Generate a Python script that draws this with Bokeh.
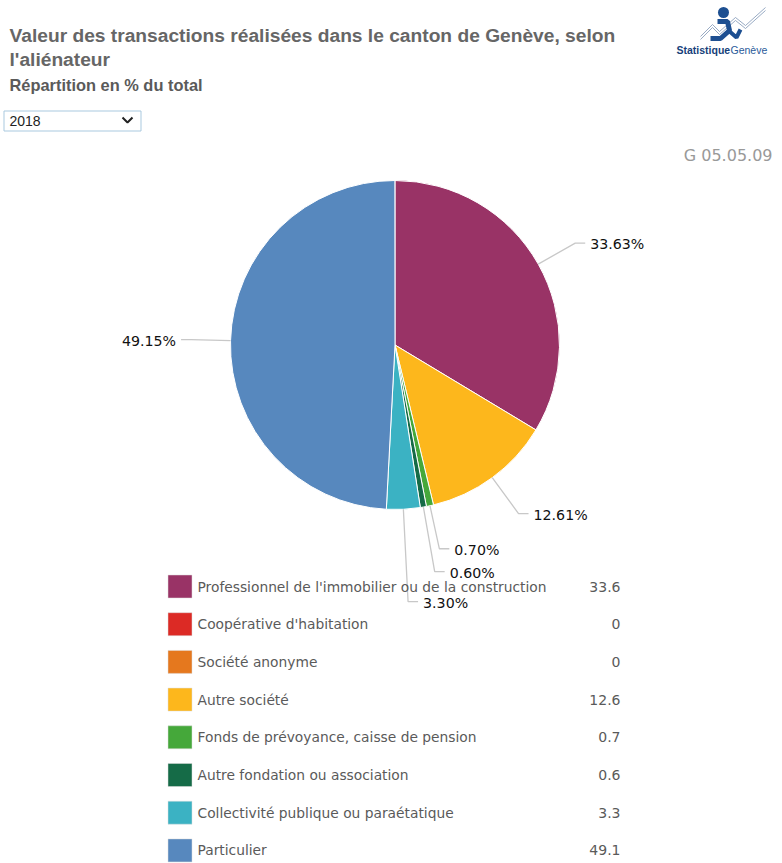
import numpy as np
from bokeh.plotting import figure
from bokeh.models import Range1d, ColumnDataSource
from bokeh.core.properties import value
from bokeh.embed import file_html
from bokeh.resources import INLINE

# ---------------- data ----------------
categories = [
    "Professionnel de l'immobilier ou de la construction",
    "Coopérative d'habitation",
    "Société anonyme",
    "Autre société",
    "Fonds de prévoyance, caisse de pension",
    "Autre fondation ou association",
    "Collectivité publique ou paraétatique",
    "Particulier",
]
shares_pct = [33.63, 0.0, 0.0, 12.61, 0.70, 0.60, 3.30, 49.15]
legend_values = [33.6, 0, 0, 12.6, 0.7, 0.6, 3.3, 49.1]
colors = ["#993366", "#DC2A25", "#E5781E", "#FDB71C", "#45A83A", "#156B47", "#3BB2C3", "#5788BE"]
year_selected = "2018"
chart_code = "G 05.05.09"
title_lines = ["Valeur des transactions réalisées dans le canton de Genève, selon", "l'aliénateur"]
subtitle = "Répartition en % du total"

# ---------------- layout ----------------
W, H = 782, 863
def Y(py):
    return H - py

cx, cy, R = 394.5, Y(344.5), 164.5
# radius of the leader-line elbow for each slice (layout only)
elbow_r = [207, 0, 0, 209, 208.5, 230, 257, 204]
tail = 10
gap = 5

p = figure(width=W, height=H, x_range=Range1d(0, W), y_range=Range1d(0, H),
           output_backend="svg", toolbar_location=None, min_border=0,
           background_fill_color="white", border_fill_color="white")
p.axis.visible = False
p.grid.visible = False
p.outline_line_color = None

# ---------------- pie ----------------
vals = np.array(shares_pct)
cum = np.concatenate([[0], np.cumsum(vals)])
frac_start = cum[:-1] / 100.0
frac_end = cum[1:] / 100.0
start_ang = np.pi / 2 - 2 * np.pi * frac_start
end_ang = np.pi / 2 - 2 * np.pi * frac_end
mask = vals > 0
idx = [i for i in range(len(vals)) if mask[i]]

src = ColumnDataSource(dict(
    x=[cx] * len(idx), y=[cy] * len(idx),
    start=[start_ang[i] for i in idx], end=[end_ang[i] for i in idx],
    color=[colors[i] for i in idx],
))
p.wedge(x="x", y="y", radius=R, start_angle="start", end_angle="end", direction="clock",
        fill_color="color", line_color="white", line_width=1, source=src)

# leader lines and labels
xs, ys = [], []
lx, ly, ltxt, lalign = [], [], [], []
for i in idx:
    mid = (start_ang[i] + end_ang[i]) / 2
    c, s = np.cos(mid), np.sin(mid)
    x0, y0 = cx + R * c, cy + R * s
    x1, y1 = cx + elbow_r[i] * c, cy + elbow_r[i] * s
    side = 1 if c >= 0 else -1
    x2 = x1 + side * tail
    xs.append([x0, x1, x2]); ys.append([y0, y1, y1])
    lx.append(x2 + side * gap); ly.append(y1 - 1)
    ltxt.append(f"{shares_pct[i]:.2f}%")
    lalign.append("left" if side > 0 else "right")

p.multi_line(xs=xs, ys=ys, line_color="#C8C8C8", line_width=1.3)
p.text(x=lx, y=ly, text=ltxt, text_align=lalign, text_baseline="middle",
       text_font=value("DejaVu Sans"), text_font_size="14.2px", text_color="#111111")

# ---------------- legend ----------------
n = len(categories)
leg_y = [Y(586 + 37.7 * k) for k in range(n)]
p.rect(x=[179.5] * n, y=leg_y, width=24, height=23, fill_color=colors,
       line_color="#DDDDDD", line_width=0.5)
p.text(x=[197] * n, y=leg_y, text=categories, text_baseline="middle",
       text_font=value("DejaVu Sans"), text_font_size="13.8px", text_color="#5A5A5A")
p.text(x=[620] * n, y=leg_y, text=[f"{v:g}" for v in legend_values], text_align="right",
       text_baseline="middle", text_font=value("DejaVu Sans"), text_font_size="14px",
       text_color="#5A5A5A")

# ---------------- titles ----------------
p.text(x=[9, 9], y=[Y(35), Y(59)], text=title_lines, text_baseline="middle",
       text_font=value("Liberation Sans"), text_font_size="19.2px", text_font_style="bold",
       text_color="#666666")
p.text(x=[9], y=[Y(84)], text=[subtitle], text_baseline="middle",
       text_font=value("Liberation Sans"), text_font_size="16.4px", text_font_style="bold",
       text_color="#5A5A5A")

# dropdown
p.quad(left=[3.5], right=[140.5], top=[Y(110.5)], bottom=[Y(130.5)],
       fill_color="white", line_color="#A9C9DF", line_width=1)
p.text(x=[9], y=[Y(120)], text=[year_selected], text_baseline="middle",
       text_font=value("Liberation Sans"), text_font_size="14px", text_color="#222222")
p.line(x=[122, 127, 132], y=[Y(117), Y(122), Y(117)], line_color="#222222", line_width=2)

# chart code
p.text(x=[772], y=[Y(155)], text=[chart_code], text_align="right", text_baseline="middle",
       text_font=value("DejaVu Sans"), text_font_size="16px", text_color="#999999")

# logo (approximation)
logo_blue = "#1D4F91"
zx = [700, 712, 719, 735, 745, 765]
zy = [36, 24, 31, 17, 25, 7]
p.multi_line(xs=[zx, zx], ys=[[Y(v) for v in zy], [Y(v + 3) for v in zy]],
             line_color="#7F95B5", line_width=0.8)
p.scatter(x=[723], y=[Y(12)], size=11, fill_color=logo_blue, line_color=None)
p.line(x=[717, 727, 729, 720, 710], y=[Y(21), Y(21), Y(30), Y(38), Y(38)],
       line_color=logo_blue, line_width=5)
p.line(x=[728, 736, 740], y=[Y(30), Y(37), Y(29)], line_color=logo_blue, line_width=4)
p.text(x=[676], y=[Y(49)], text=["Statistique"], text_baseline="middle",
       text_font=value("Liberation Sans"), text_font_size="10.5px", text_font_style="bold",
       text_color="#173F7A")
p.text(x=[730], y=[Y(49)], text=["Genève"], text_baseline="middle",
       text_font=value("Liberation Sans"), text_font_size="10.5px", text_color="#2A5A9A")

open("out.html", "w").write(file_html(p, INLINE))
